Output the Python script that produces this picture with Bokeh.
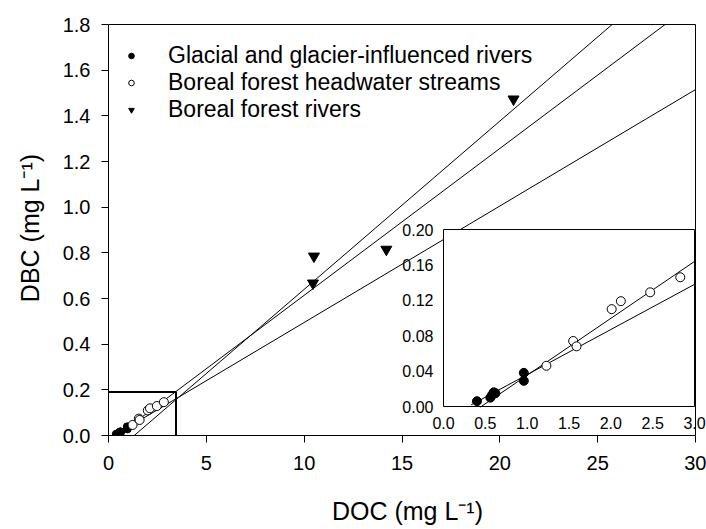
from bokeh.plotting import figure
from bokeh.models import (Range1d, FixedTicker, Legend, LegendItem,
                          ColumnDataSource, CustomJSTickFormatter, LabelSet)
from bokeh.embed import file_html
from bokeh.resources import INLINE
from bokeh.core.properties import value

# ---------------- data ----------------
glacial_doc = [0.40, 0.56, 0.58, 0.60, 0.62, 0.96, 0.96]
glacial_dbc = [0.006, 0.010, 0.013, 0.016, 0.015, 0.038, 0.029]

headwater_doc = [1.23, 1.55, 1.59, 2.01, 2.12, 2.47, 2.83]
headwater_dbc = [0.046, 0.074, 0.068, 0.110, 0.119, 0.129, 0.146]

rivers_doc = [10.5, 10.45, 14.2, 20.7]
rivers_dbc = [0.785, 0.667, 0.815, 1.473]

# regression lines (slope, intercept, start/end of line)
fit_slope = [0.0737, 0.0643, 0.0510]
fit_intercept = [-0.097, -0.029, -0.015]
fit_start_main = [1.0, 0.45, 0.3]
fit_end_main = [30.0, 30.0, 30.0]
inset_fit_index = [1, 2]
inset_fit_start = [0.44, 0.33]
inset_fit_end = [3.0, 3.0]

# zoom box drawn on the main plot
zoom_box_doc = [0.0, 3.45]
zoom_box_dbc = [0.0, 0.19]

main_x_ticks = [0, 5, 10, 15, 20, 25, 30]
main_y_ticks = [0.0, 0.2, 0.4, 0.6, 0.8, 1.0, 1.2, 1.4, 1.6, 1.8]
inset_x_ticks = [0.0, 0.5, 1.0, 1.5, 2.0, 2.5, 3.0]
inset_x_labels = ["0.0", "0.5", "1.0", "1.5", "2.0", "2.5", "3.0"]
inset_y_ticks = [0.00, 0.04, 0.08, 0.12, 0.16, 0.20]
inset_y_labels = ["0.00", "0.04", "0.08", "0.12", "0.16", "0.20"]

legend_labels = ["Glacial and glacier-influenced rivers",
                 "Boreal forest headwater streams",
                 "Boreal forest rivers"]

# ---------------- layout (pixels) ----------------
W, H = 706, 529
AL, AR, AT, AB = 108, 695, 24, 435          # drawn axes box (0..30, 0..1.8)
FL, FR, FT, FB = 108, 706, 20, 435          # actual plot frame (a bit larger, no clipping)
IL, IR, IT, IB = 443, 694, 229, 406         # inset frame edges
FONT = "Liberation Sans"

x_min, x_max = main_x_ticks[0], main_x_ticks[-1]
y_min, y_max = main_y_ticks[0], main_y_ticks[-1]
mx_unit = (AR - AL) / (x_max - x_min)
my_unit = (AB - AT) / (y_max - y_min)

p = figure(width=W, height=H, output_backend="svg", toolbar_location=None,
           x_range=Range1d(x_min - (AL - FL) / mx_unit, x_max + (FR - AR) / mx_unit),
           y_range=Range1d(y_min - (FB - AB) / my_unit, y_max + (AT - FT) / my_unit),
           min_border_left=FL, min_border_right=W - FR,
           min_border_top=FT, min_border_bottom=H - FB)
p.grid.visible = False
p.outline_line_color = None
p.background_fill_color = "white"
p.border_fill_color = "white"

# inset coordinate system expressed as extra ranges over the frame
ix_unit = (IR - IL) / (inset_x_ticks[-1] - inset_x_ticks[0])
iy_unit = (IB - IT) / (inset_y_ticks[-1] - inset_y_ticks[0])
p.extra_x_ranges = {"ix": Range1d(inset_x_ticks[0] - (IL - FL) / ix_unit,
                                  inset_x_ticks[-1] + (FR - IR) / ix_unit)}
p.extra_y_ranges = {"iy": Range1d(inset_y_ticks[0] - (FB - IB) / iy_unit,
                                  inset_y_ticks[-1] + (IT - FT) / iy_unit)}

# axes styling
for ax in (p.xaxis[0], p.yaxis[0]):
    ax.axis_line_color = "black"
    ax.major_tick_line_color = "black"
    ax.minor_tick_line_color = None
    ax.major_tick_out = 7
    ax.major_tick_in = 0
    ax.major_label_text_font = FONT
    ax.major_label_text_font_size = "20px"
    ax.major_label_text_color = "black"
    ax.axis_label_text_font = FONT
    ax.axis_label_text_font_size = "25px"
    ax.axis_label_text_font_style = "normal"
    ax.axis_label_text_color = "black"

p.xaxis.bounds = (x_min, x_max)
p.yaxis.bounds = (y_min, y_max)
p.xaxis.ticker = FixedTicker(ticks=main_x_ticks)
p.yaxis.ticker = FixedTicker(ticks=main_y_ticks)
p.yaxis.formatter = CustomJSTickFormatter(code="return tick.toFixed(1);")
p.xaxis.axis_label = "DOC (mg L\u207b\u00b9)"
p.yaxis.axis_label = "DBC (mg L\u207b\u00b9)"
p.xaxis.major_label_standoff = 13
p.yaxis.major_label_standoff = 11
p.xaxis.axis_label_standoff = 24
p.yaxis.axis_label_standoff = 16

# top and right border of the main axes box
p.line([x_min, x_max, x_max], [y_max, y_max, y_min], line_color="black", line_width=1)

# main regression lines
for s, b, x0, x1 in zip(fit_slope, fit_intercept, fit_start_main, fit_end_main):
    xe = min(x1, (y_max - b) / s)
    p.line([x0, xe], [b + s * x0, b + s * xe], line_color="black", line_width=1)

# zoom box
p.line([zoom_box_doc[0], zoom_box_doc[1], zoom_box_doc[1]],
       [zoom_box_dbc[1], zoom_box_dbc[1], zoom_box_dbc[0]],
       line_color="black", line_width=2)

# main points
r_gl = p.scatter(glacial_doc, glacial_dbc, marker="circle", size=8,
                 fill_color="black", line_color="black")
r_hw = p.scatter(headwater_doc, headwater_dbc, marker="circle", size=9,
                 fill_color="white", line_color="black", line_width=1)
r_rv = p.scatter(rivers_doc, rivers_dbc, marker="inverted_triangle", size=11,
                 fill_color="black", line_color="black")

# ---------------- inset ----------------
p.quad(left=[inset_x_ticks[0]], right=[inset_x_ticks[-1]],
       bottom=[inset_y_ticks[0]], top=[inset_y_ticks[-1]],
       fill_color="white", line_color="black", line_width=1,
       x_range_name="ix", y_range_name="iy")

for k, x0, x1 in zip(inset_fit_index, inset_fit_start, inset_fit_end):
    s, b = fit_slope[k], fit_intercept[k]
    p.line([x0, x1], [b + s * x0, b + s * x1], line_color="black", line_width=1,
           x_range_name="ix", y_range_name="iy")

p.scatter(headwater_doc, headwater_dbc, marker="circle", size=9,
          fill_color="white", line_color="black", line_width=1,
          x_range_name="ix", y_range_name="iy")
p.scatter(glacial_doc, glacial_dbc, marker="circle", size=9,
          fill_color="black", line_color="black",
          x_range_name="ix", y_range_name="iy")

# inset tick labels
src_ix = ColumnDataSource(dict(x=inset_x_ticks, y=[inset_y_ticks[0]] * len(inset_x_ticks),
                               t=inset_x_labels))
src_iy = ColumnDataSource(dict(x=[inset_x_ticks[0]] * len(inset_y_ticks), y=inset_y_ticks,
                               t=inset_y_labels))
p.add_layout(LabelSet(x="x", y="y", text="t", source=src_ix,
                      x_range_name="ix", y_range_name="iy",
                      text_font=value(FONT), text_font_size=value("16px"),
                      text_color=value("black"),
                      text_align="center", text_baseline="top", y_offset=-10))
p.add_layout(LabelSet(x="x", y="y", text="t", source=src_iy,
                      x_range_name="ix", y_range_name="iy",
                      text_font=value(FONT), text_font_size=value("16px"),
                      text_color=value("black"),
                      text_align="right", text_baseline="middle", x_offset=-10))

# ---------------- legend ----------------
ROW = 27
legend = Legend(items=[LegendItem(label=legend_labels[0], renderers=[r_gl]),
                       LegendItem(label=legend_labels[1], renderers=[r_hw]),
                       LegendItem(label=legend_labels[2], renderers=[r_rv])],
                location=(124 - FL, FB - (42 + 3 * ROW)), margin=0, padding=0, spacing=0,
                glyph_width=14, glyph_height=ROW, label_height=ROW,
                label_standoff=30, label_text_font=FONT,
                label_text_font_size="23px", label_text_color="black",
                border_line_alpha=0, background_fill_alpha=0)
p.add_layout(legend, "center")

open("out.html", "w").write(file_html(p, INLINE))
